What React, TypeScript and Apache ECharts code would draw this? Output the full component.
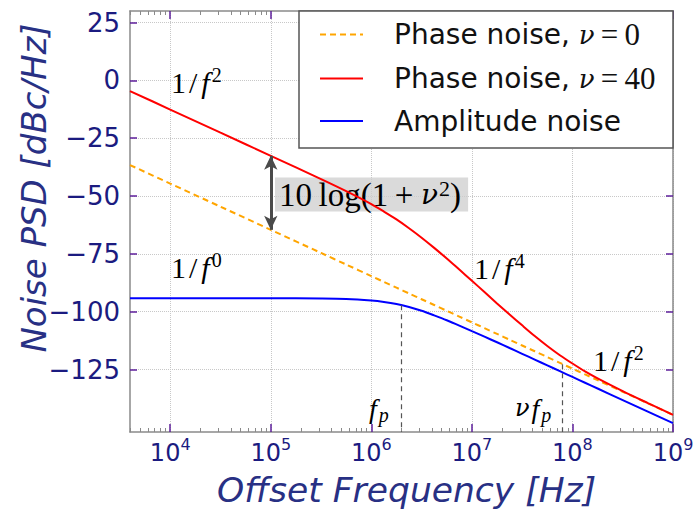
import React, { useEffect, useRef } from 'react';
import * as echarts from 'echarts';

// log10 of offset frequency [Hz]
const logFreq = [3.6, 4, 4.5, 5, 5.5, 5.75, 6, 6.125, 6.25, 6.375, 6.5, 6.625, 6.75, 6.875, 7, 7.125, 7.25, 7.375, 7.5, 7.625, 7.75, 7.875, 8, 8.125, 8.25, 8.5, 8.75, 9];
// Phase noise, nu = 0 [dBc/Hz]
const phaseNu0 = [-36.6, -44.6, -54.6, -64.6, -74.6, -79.6, -84.6, -87.1, -89.6, -92.1, -94.6, -97.1, -99.6, -102.1, -104.6, -107.1, -109.6, -112.1, -114.6, -117.1, -119.6, -122.1, -124.6, -127.1, -129.6, -134.6, -139.6, -144.6];
// Phase noise, nu = 40 [dBc/Hz]
const phaseNu40 = [-4.6, -12.6, -22.6, -32.6, -42.7, -47.9, -53.5, -56.7, -60.1, -63.9, -68.0, -72.4, -77.0, -81.8, -86.6, -91.5, -96.4, -101.2, -105.9, -110.5, -114.8, -118.8, -122.4, -125.8, -128.8, -134.3, -139.5, -144.6];
// Amplitude noise [dBc/Hz]
const amplitude = [-94.2, -94.2, -94.2, -94.2, -94.3, -94.5, -95.2, -95.8, -96.7, -98.0, -99.6, -101.6, -103.7, -106.0, -108.4, -110.8, -113.2, -115.7, -118.2, -120.7, -123.2, -125.7, -128.2, -130.7, -133.2, -138.2, -143.2, -148.2];

const decadeTicks = [4, 5, 6, 7, 8, 9];
const yTicks = [-125, -100, -75, -50, -25, 0, 25];
const xMin = 3.6;
const xMax = 9;
const yMin = -152;
const yMax = 30;

// f_p and nu*f_p markers, and the level each dashed marker reaches
const markerFreqs = [2e6, 8e7];
const markerLevels = [-97.2, -122.7];
const gapIndex = 3; // 1e5 Hz, where the 10log(1+nu^2) arrow sits

const minorTicks: number[] = [];
for (let d = 3; d < 9; d++) {
  for (let k = 2; k <= 9; k++) {
    const v = d + Math.log10(k);
    if (v > xMin && v < xMax) minorTicks.push(v);
  }
}

const navy = '#1b1b80';
const titleNavy = '#283084';
const tickPurple = '#5e1f9b';
const spine = '#8a8a8a';
const gridColor = '#c8c8c8';
const serif = 'Liberation Serif';
const greek = 'DejaVu Serif';

const mathRich = (size: number, color: string) => ({
  n: { fontFamily: serif, fontSize: size, color, lineHeight: 34, verticalAlign: 'middle' },
  i: { fontFamily: serif, fontStyle: 'italic', fontSize: size, color, lineHeight: 34, verticalAlign: 'middle', padding: [0, 2, 0, 1] },
  g: { fontFamily: greek, fontStyle: 'italic', fontSize: Math.round(size * 0.85), color, lineHeight: 34, verticalAlign: 'middle', padding: [0, 1, 0, 1] },
  sl: { fontFamily: serif, fontSize: size, color, lineHeight: 34, verticalAlign: 'middle', padding: [0, 3, 0, 3] },
  s: { fontFamily: serif, fontSize: Math.round(size * 0.68), color, lineHeight: 16, verticalAlign: 'top' },
  sub: { fontFamily: serif, fontStyle: 'italic', fontSize: Math.round(size * 0.7), color, lineHeight: 14, verticalAlign: 'bottom' },
});

export default function App() {
  const ref = useRef<HTMLDivElement>(null);

  useEffect(() => {
    if (!ref.current) return;
    const chart = echarts.init(ref.current, undefined, { renderer: 'svg' });

    const xBase = { type: 'value', min: xMin, max: xMax, gridIndex: 0 };
    const majorTick = {
      show: true,
      inside: true,
      length: 8,
      customValues: decadeTicks,
      lineStyle: { color: tickPurple, width: 1.5 },
    };
    const minorTick = {
      show: true,
      inside: true,
      length: 4,
      customValues: minorTicks,
      lineStyle: { color: '#8a8a8a', width: 1 },
    };
    const spineLine = { show: true, onZero: false, lineStyle: { color: spine, width: 1.5 } };

    const option: any = {
      animation: false,
      textStyle: { fontFamily: 'DejaVu Sans' },
      grid: { left: 130, right: 26, top: 11, bottom: 78, containLabel: false },
      xAxis: [
        {
          ...xBase,
          position: 'bottom',
          axisLine: spineLine,
          axisTick: majorTick,
          axisLabel: {
            customValues: decadeTicks,
            margin: 4,
            formatter: (v: number) => `{b|10}{s|${Math.round(v)}}`,
            rich: {
              b: { fontFamily: 'DejaVu Sans', fontSize: 24, color: navy, lineHeight: 34, verticalAlign: 'middle' },
              s: { fontFamily: 'DejaVu Sans', fontSize: 16, color: navy, lineHeight: 14, verticalAlign: 'top' },
            },
          },
          splitLine: { show: true, lineStyle: { color: gridColor, type: 'dotted', width: 1 } },
        },
        {
          ...xBase,
          position: 'bottom',
          axisLine: { show: false, onZero: false },
          axisTick: minorTick,
          axisLabel: { show: false },
          splitLine: { show: false },
        },
        {
          ...xBase,
          position: 'top',
          axisLine: spineLine,
          axisTick: majorTick,
          axisLabel: { show: false },
          splitLine: { show: false },
        },
        {
          ...xBase,
          position: 'top',
          axisLine: { show: false, onZero: false },
          axisTick: minorTick,
          axisLabel: { show: false },
          splitLine: { show: false },
        },
      ],
      yAxis: [
        {
          type: 'value',
          min: yMin,
          max: yMax,
          position: 'left',
          axisLine: spineLine,
          axisTick: { show: true, inside: true, length: 7, customValues: yTicks, lineStyle: { color: tickPurple, width: 1.5 } },
          axisLabel: {
            customValues: yTicks,
            margin: 10,
            color: navy,
            fontSize: 26,
            fontFamily: 'DejaVu Sans',
            formatter: (v: number) => (v < 0 ? '\u2212' + Math.abs(v) : String(v)),
          },
          splitLine: { show: true, lineStyle: { color: gridColor, type: 'dotted', width: 1 } },
        },
        {
          type: 'value',
          min: yMin,
          max: yMax,
          position: 'right',
          axisLine: spineLine,
          axisTick: { show: true, inside: true, length: 7, customValues: yTicks, lineStyle: { color: tickPurple, width: 1.5 } },
          axisLabel: { show: false },
          splitLine: { show: false },
        },
      ],
      legend: {
        left: 319,
        top: 19,
        orient: 'vertical',
        padding: 0,
        itemGap: 13,
        itemWidth: 43,
        itemHeight: 14,
        itemStyle: { opacity: 0, borderWidth: 0 },
        data: ['nu0', 'nu40', 'amp'],
        formatter: (name: string) => {
          if (name === 'nu0') return '{t|Phase noise, }{m|\u03bd}{r|\u2009=\u20090}';
          if (name === 'nu40') return '{t|Phase noise, }{m|\u03bd}{r|\u2009=\u200940}';
          return '{t|Amplitude noise}';
        },
        textStyle: {
          padding: [0, 0, 0, 26],
          rich: {
            t: { fontFamily: 'DejaVu Sans', fontSize: 28, color: '#111', lineHeight: 30 },
            m: { fontFamily: greek, fontStyle: 'italic', fontSize: 26, color: '#111', lineHeight: 30 },
            r: { fontFamily: serif, fontSize: 31, color: '#111', lineHeight: 30 },
          },
        },
      },
      graphic: [
        {
          type: 'rect',
          z: 3,
          shape: { x: 299, y: 11, width: 374, height: 137 },
          style: { fill: '#ffffff', stroke: '#555555', lineWidth: 1.5 },
        },
        {
          type: 'text',
          z: 1,
          x: 275,
          y: 194.5,
          style: {
            text: '{n|10\u2009log(1\u2009+\u2009}{g|\u03bd}{s|2}{n|)}',
            rich: mathRich(33, '#555555'),
            backgroundColor: 'rgba(205,205,205,0.75)',
            padding: [0, 7, 0, 4],
            verticalAlign: 'middle',
            align: 'left',
          },
        },
        {
          type: 'text',
          z: 5,
          x: 171,
          y: 82,
          style: { text: '{n|1}{sl|/}{i|f}{s|2}', rich: mathRich(30, '#111'), verticalAlign: 'middle', align: 'left' },
        },
        {
          type: 'text',
          z: 5,
          x: 171,
          y: 267,
          style: { text: '{n|1}{sl|/}{i|f}{s|0}', rich: mathRich(30, '#111'), verticalAlign: 'middle', align: 'left' },
        },
        {
          type: 'text',
          z: 5,
          x: 474,
          y: 268,
          style: { text: '{n|1}{sl|/}{i|f}{s|4}', rich: mathRich(30, '#111'), verticalAlign: 'middle', align: 'left' },
        },
        {
          type: 'text',
          z: 5,
          x: 593,
          y: 360,
          style: { text: '{n|1}{sl|/}{i|f}{s|2}', rich: mathRich(30, '#111'), verticalAlign: 'middle', align: 'left' },
        },
        {
          type: 'text',
          z: 5,
          x: 368,
          y: 408,
          style: { text: '{i|f}{sub|p}', rich: mathRich(28, '#22228a'), verticalAlign: 'middle', align: 'left' },
        },
        {
          type: 'text',
          z: 5,
          x: 514,
          y: 408,
          style: { text: '{g|\u03bd}{i|f}{sub|p}', rich: mathRich(28, '#22228a'), verticalAlign: 'middle', align: 'left' },
        },
        {
          type: 'text',
          z: 5,
          x: 217,
          y: 490,
          style: {
            text: 'Offset Frequency [Hz]',
            fontFamily: 'DejaVu Sans',
            fontStyle: 'italic',
            fontSize: 34.5,
            fill: titleNavy,
            verticalAlign: 'middle',
            align: 'left',
          },
        },
        {
          type: 'text',
          z: 5,
          x: 34,
          y: 188,
          rotation: Math.PI / 2,
          style: {
            text: 'Noise PSD [dBc/Hz]',
            fontFamily: 'DejaVu Sans',
            fontStyle: 'italic',
            fontSize: 34,
            fill: titleNavy,
            verticalAlign: 'middle',
            align: 'center',
          },
        },
      ],
      series: [
        {
          name: 'nu0',
          type: 'line',
          data: logFreq.map((u, i) => [u, phaseNu0[i]]),
          symbol: 'none',
          showSymbol: false,
          smooth: 0.3,
          z: 2,
          itemStyle: { color: '#ffa500' },
          lineStyle: { color: '#ffa500', width: 2, type: [6, 4] },
          markLine: {
            silent: true,
            animation: false,
            symbol: ['arrow', 'arrow'],
            symbolSize: [10, 14],
            label: { show: false },
            lineStyle: { color: '#4a4a4a', width: 3, type: 'solid' },
            data: [[
              { coord: [logFreq[gapIndex], phaseNu40[gapIndex]] },
              { coord: [logFreq[gapIndex], phaseNu0[gapIndex]] },
            ]],
          },
        },
        {
          name: 'nu40',
          type: 'line',
          data: logFreq.map((u, i) => [u, phaseNu40[i]]),
          symbol: 'none',
          showSymbol: false,
          smooth: 0.3,
          z: 2,
          itemStyle: { color: '#ff0000' },
          lineStyle: { color: '#ff0000', width: 2 },
        },
        {
          name: 'amp',
          type: 'line',
          data: logFreq.map((u, i) => [u, amplitude[i]]),
          symbol: 'none',
          showSymbol: false,
          smooth: 0.3,
          z: 2,
          itemStyle: { color: '#0000ff' },
          lineStyle: { color: '#0000ff', width: 2 },
          markLine: {
            silent: true,
            animation: false,
            symbol: 'none',
            label: { show: false },
            lineStyle: { color: '#555555', width: 1.2, type: [5, 4] },
            data: markerFreqs.map((f, i) => [
              { coord: [Math.log10(f), markerLevels[i]] },
              { coord: [Math.log10(f), yMin] },
            ]),
          },
        },
      ],
    };

    chart.setOption(option);
    return () => chart.dispose();
  }, []);

  return <div ref={ref} style={{ position: 'absolute', left: 0, top: 0, width: 699, height: 510 }} />;
}
